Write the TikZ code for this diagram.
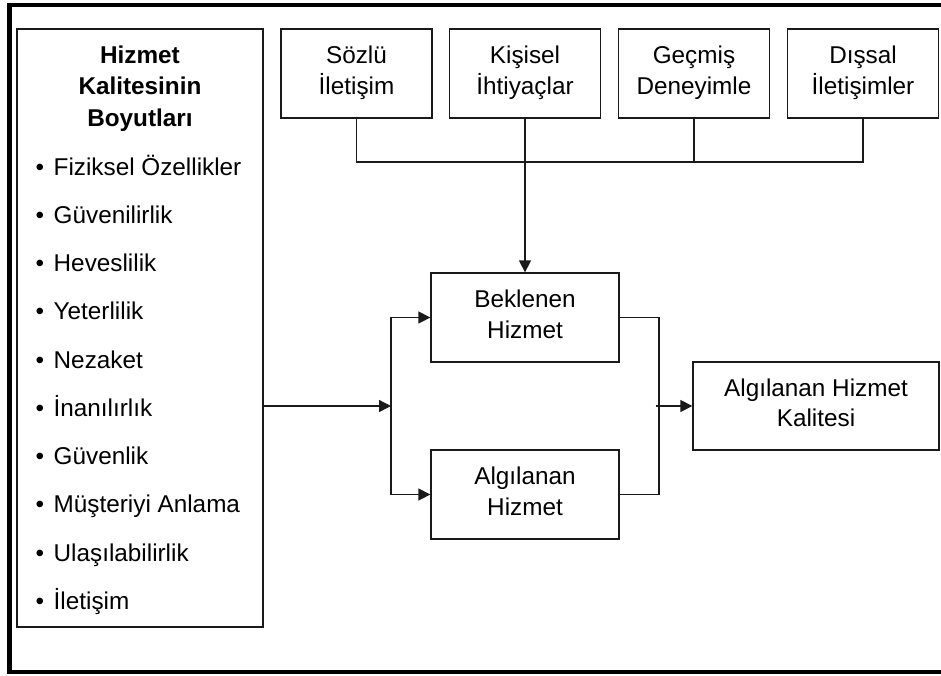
\documentclass[tikz,border=0pt]{standalone}
\usepackage{fontspec}
\setmainfont{Liberation Sans}
\usetikzlibrary{arrows.meta}
\definecolor{linegray}{HTML}{1A1A1A}
\newcommand{\bodyfont}{\fontsize{24.3pt}{30.5pt}\selectfont}
\newcommand{\titlefont}{\fontsize{24.3pt}{31.7pt}\selectfont\bfseries}
% two centred lines with a fixed outer height and depth, so every box sets its text alike
\newcommand{\twoline}[2]{\raisebox{0pt}[16pt][0pt]{#1}\\\raisebox{0pt}[0pt][5.5pt]{#2}}
\begin{document}
\begin{tikzpicture}[x=1pt,y=-1pt,
  every node/.style={font=\bodyfont, text=black},
  box/.style={draw=linegray, line width=1.3pt, inner sep=0pt, align=center,
              minimum width=151pt, minimum height=89pt},
  link/.style={draw=linegray, line width=1.3pt},
  arrowlink/.style={link, -{Triangle[length=12pt,width=12pt]}},
  item/.style={anchor=base west, inner sep=0pt},
  dot/.style={anchor=base, inner sep=0pt}
]
\useasboundingbox (0,0) rectangle (941,675);
\begin{scope}
  \clip (0,0) rectangle (941,675);
  % outer frame, open on the right
  \draw[line width=4.3pt] (960,5.3) -- (9.5,5.3) -- (9.5,672) -- (960,672);
\end{scope}

% dimensions box on the left
\node[box, minimum width=246pt, minimum height=598pt] (dims) at (140,328) {};
\node[anchor=north, inner sep=0pt, align=center, font=\titlefont] (title) at (140,45.3)
  {Hizmet\\Kalitesinin\\Boyutları};
\foreach \k/\txt in {0/Fiziksel Özellikler, 1/Güvenilirlik, 2/Heveslilik,
                     3/Yeterlilik, 4/Nezaket, 5/İnanılırlık, 6/Güvenlik,
                     7/Müşteriyi Anlama, 8/Ulaşılabilirlik, 9/İletişim}{
  \node[dot] (b\k) at (40,175+48.25*\k) {•};
  \node[item] (i\k) at (53.5,175+48.25*\k) {\txt};
}

% expectation sources
\node[box] (s1) at (356.5,73.5) {\twoline{Sözlü}{İletişim}};
\node[box] (s2) at (525,73.5) {\twoline{Kişisel}{İhtiyaçlar}};
\node[box] (s3) at (694,73.5) {\twoline{Geçmiş}{Deneyimle}};
\node[box] (s4) at (863,73.5) {\twoline{Dışsal}{İletişimler}};

% service boxes
\node[box, minimum width=188pt] (bek) at (525,317.5) {\twoline{Beklenen}{Hizmet}};
\node[box, minimum width=188pt] (alg) at (525,494.5) {\twoline{Algılanan}{Hizmet}};
\node[box, minimum width=246pt, minimum height=88pt] (kal) at (816,406)
  {\twoline{Algılanan Hizmet}{Kalitesi}};

% junction points
\coordinate (bus) at (525,162);
\coordinate (split) at (391,406);
\coordinate (merge) at (659,406);

% top bus
\draw[link] (s1.south) -- (s1.south |- bus) -- (s4.south |- bus) -- (s4.south);
\draw[link] (s3.south) -- (s3.south |- bus);
\draw[arrowlink] (s2.south) -- (bek.north);

% left split
\draw[arrowlink] (dims.east |- split) -- (split);
\draw[arrowlink] (split) |- (bek.west);
\draw[arrowlink] (split) |- (alg.west);

% right merge
\draw[link] (bek.east) -| (merge) |- (alg.east);
\draw[arrowlink] ([xshift=-3.5pt]merge) -- (kal.west);
\end{tikzpicture}
\end{document}
